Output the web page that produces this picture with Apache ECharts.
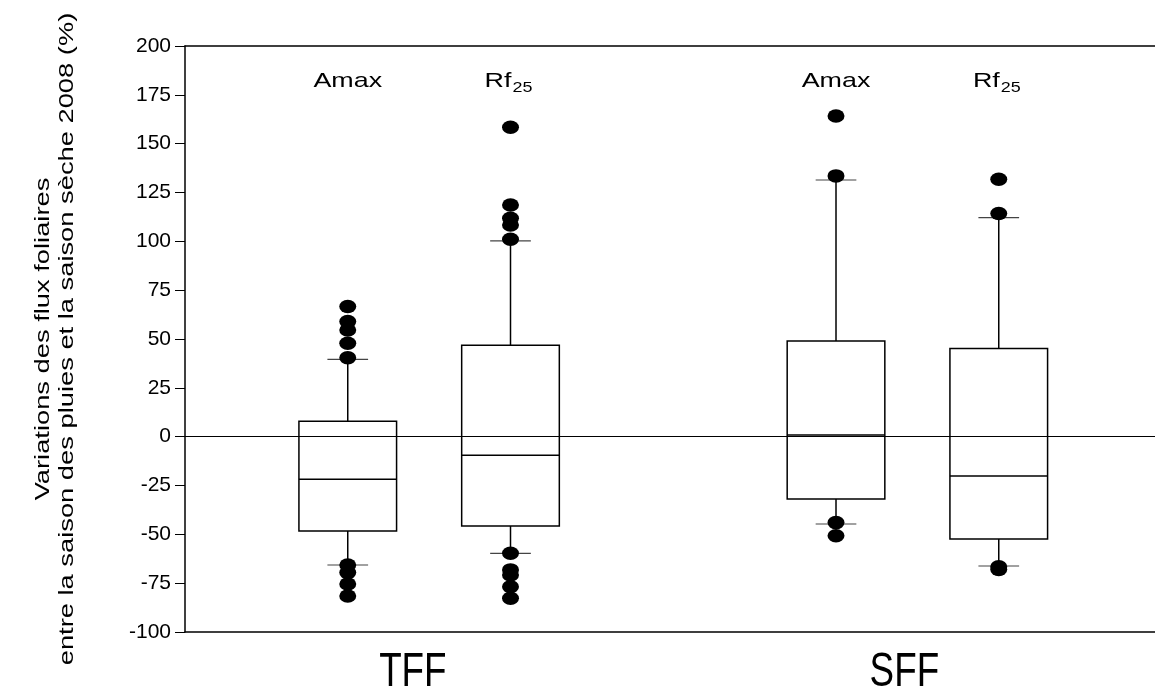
<!DOCTYPE html>
<html>
<head>
<meta charset="utf-8">
<script src="https://cdn.jsdelivr.net/npm/echarts@6/dist/echarts.min.js"></script>
<style>
html,body{margin:0;padding:0;background:#fff;}
#chart{width:1155px;height:700px;}
</style>
</head>
<body>
<div id="chart"></div>
<script>
// ---- data ----
const groupNames = ['TFF', 'SFF'];
const groupCenters = [1.4, 4.42];
const varBase = ['Amax', 'Rf', 'Amax', 'Rf'];
const varSub = ['', '25', '', '25'];
const boxPositions = [1, 2, 4, 5];
const lowerWhisker = [-65.7, -59.7, -44.7, -66.2];
const q1 = [-48.3, -45.7, -31.9, -52.4];
const median = [-21.8, -9.5, 0.9, -20.1];
const q3 = [7.9, 46.8, 49.0, 45.1];
const upperWhisker = [39.6, 100.2, 131.4, 112.1];
const outliersTFFAmax = [66.6, 58.9, 54.6, 47.8, 40.4, -65.7, -69.6, -75.4, -81.6];
const outliersTFFRf25 = [158.4, 118.6, 111.8, 108.4, 101.1, -59.7, -68.2, -70.8, -76.8, -82.7];
const outliersSFFAmax = [164.2, 133.5, -44.0, -50.7];
const outliersSFFRf25 = [131.8, 114.2, -66.6, -68.0];
const yMin = -100, yMax = 200, yStep = 25;
const yTitle1 = 'Variations des flux foliaires';
const yTitle2 = 'entre la saison des pluies et la saison sèche 2008 (%)';

const FONT = '"Liberation Sans", Arial, sans-serif';
const outlierSets = [outliersTFFAmax, outliersTFFRf25, outliersSFFAmax, outliersSFFRf25];
const outlierData = [];
outlierSets.forEach((arr, i) => arr.forEach(v => outlierData.push([boxPositions[i], v])));

const chart = echarts.init(document.getElementById('chart'), null, {renderer: 'canvas'});

const frameAxis = {
  type: 'value', min: 0, max: 5.96,
  axisLine: {show: true, onZero: false, lineStyle: {color: '#000', width: 1.5}},
  axisTick: {show: false}, axisLabel: {show: false}, splitLine: {show: false}
};

const option = {
  animation: false,
  backgroundColor: '#fff',
  grid: {left: 185, right: 0, top: 46, bottom: 68, show: false},
  xAxis: [
    Object.assign({position: 'bottom'}, frameAxis),
    Object.assign({position: 'top'}, frameAxis)
  ],
  yAxis: {
    type: 'value', min: yMin, max: yMax, interval: yStep,
    axisLine: {show: true, lineStyle: {color: '#000', width: 1.5}},
    axisTick: {show: true, inside: false, length: 10, lineStyle: {color: '#000', width: 1}},
    axisLabel: {color: '#000', fontFamily: FONT, fontSize: 21, margin: 14},
    splitLine: {show: false}
  },
  graphic: [
    {type: 'text', x: 43, y: 339, rotation: Math.PI / 2, scaleX: 1.3,
     style: {text: yTitle1, fontFamily: FONT, fontSize: 21, fill: '#000', align: 'center', verticalAlign: 'middle'}},
    {type: 'text', x: 67, y: 339, rotation: Math.PI / 2, scaleX: 1.3,
     style: {text: yTitle2, fontFamily: FONT, fontSize: 21, fill: '#000', align: 'center', verticalAlign: 'middle'}}
  ],
  series: [
    {
      type: 'line', data: [], z: 1, silent: true,
      markLine: {silent: true, symbol: 'none', label: {show: false},
        lineStyle: {color: '#000', width: 1, type: 'solid'},
        data: [{yAxis: 0}]}
    },
    {
      type: 'custom', z: 3, silent: true,
      data: boxPositions.map((p, i) => [p, lowerWhisker[i], q1[i], median[i], q3[i], upperWhisker[i]]),
      encode: {x: 0, y: [1, 2, 3, 4, 5]},
      renderItem: function (params, api) {
        const x = api.value(0);
        const halfW = 0.3, capHalf = 0.125;
        const cx = api.coord([x, 0])[0];
        const left = api.coord([x - halfW, 0])[0];
        const right = api.coord([x + halfW, 0])[0];
        const capL = api.coord([x - capHalf, 0])[0];
        const capR = api.coord([x + capHalf, 0])[0];
        const yy = k => api.coord([x, api.value(k)])[1];
        const yLo = yy(1), yQ1 = yy(2), yMed = yy(3), yQ3 = yy(4), yHi = yy(5);
        const blk = {stroke: '#000', lineWidth: 1.5};
        const cap = {stroke: '#444', lineWidth: 1.2};
        return {type: 'group', children: [
          {type: 'line', shape: {x1: cx, y1: yQ3, x2: cx, y2: yHi}, style: blk},
          {type: 'line', shape: {x1: cx, y1: yQ1, x2: cx, y2: yLo}, style: blk},
          {type: 'line', shape: {x1: capL, y1: yHi, x2: capR, y2: yHi}, style: cap},
          {type: 'line', shape: {x1: capL, y1: yLo, x2: capR, y2: yLo}, style: cap},
          {type: 'rect', shape: {x: left, y: yQ3, width: right - left, height: yQ1 - yQ3},
           style: {fill: '#fff', stroke: '#000', lineWidth: 1.5}},
          {type: 'line', shape: {x1: left, y1: yMed, x2: right, y2: yMed}, style: blk}
        ]};
      }
    },
    {
      type: 'scatter', z: 4, silent: true,
      symbol: 'circle', symbolSize: [17, 13.5],
      itemStyle: {color: '#000', opacity: 1},
      data: outlierData
    },
    {
      type: 'custom', z: 5, silent: true,
      data: boxPositions.map((p, i) => [p, i]),
      encode: {x: 0},
      renderItem: function (params, api) {
        const i = api.value(1);
        const pt = api.coord([api.value(0), 182]);
        const base = varBase[i], sub = varSub[i];
        if (!sub) {
          return {type: 'text', x: pt[0], y: pt[1], scaleX: 1.28,
            style: {text: base, fontFamily: FONT, fontSize: 21, fill: '#000', align: 'center', verticalAlign: 'middle'}};
        }
        return {type: 'group', children: [
          {type: 'text', x: pt[0] + 1, y: pt[1], scaleX: 1.28,
           style: {text: base, fontFamily: FONT, fontSize: 21, fill: '#000', align: 'right', verticalAlign: 'middle'}},
          {type: 'text', x: pt[0] + 2, y: pt[1] + 7, scaleX: 1.28,
           style: {text: sub, fontFamily: FONT, fontSize: 14, fill: '#000', align: 'left', verticalAlign: 'middle'}}
        ]};
      }
    },
    {
      type: 'custom', z: 5, silent: true,
      data: groupCenters.map((c, i) => [c, i]),
      encode: {x: 0},
      renderItem: function (params, api) {
        const pt = api.coord([api.value(0), yMin]);
        return {type: 'text', x: pt[0], y: pt[1] + 41, scaleX: 0.8, scaleY: 1.05,
          style: {text: groupNames[api.value(1)], fontFamily: FONT, fontSize: 46, fill: '#000', align: 'center', verticalAlign: 'middle'}};
      }
    }
  ]
};
chart.setOption(option);
</script>
</body>
</html>
